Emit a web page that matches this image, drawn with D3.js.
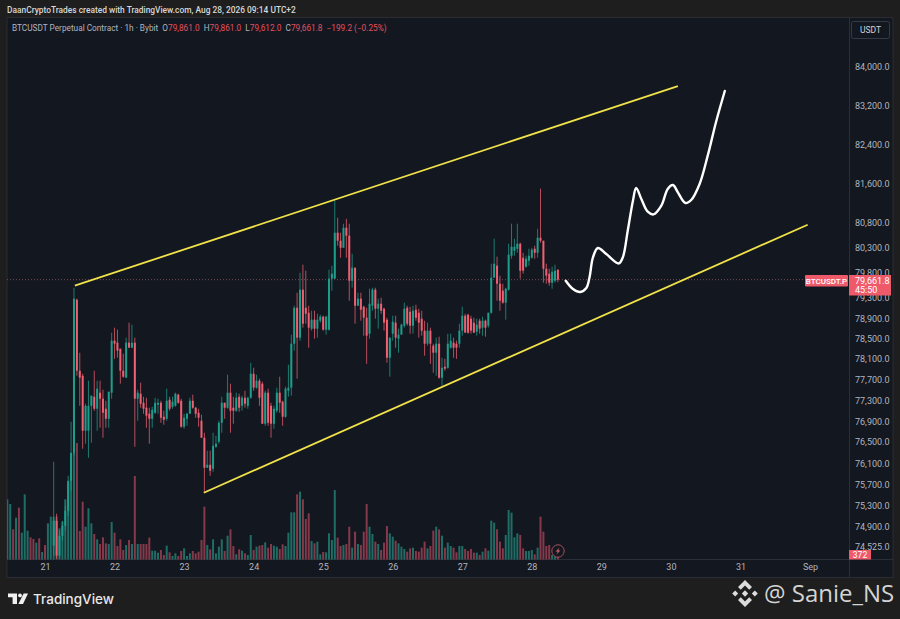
<!DOCTYPE html>
<html>

<head>
  <meta charset="utf-8">
  <title>BTCUSDT 1h</title>
  <script src="https://d3js.org/d3.v7.min.js"></script>
  <style>
    html, body { margin: 0; padding: 0; background: #1e1e1e; overflow: hidden; }
    svg { display: block; }
    .axis text { fill: #b2b5be; font-family: Roboto, sans-serif; font-size: 9px; }
    .axis .domain, .axis line { display: none; }
  </style>
</head>

<body>
  <script>
    var width = 900;
    var height = 619;

    // candles, one per hour, first one is Aug 21 03:00
    var firstCandleHour = 3;
    var opens = [74550,75014,74365,74735,74920,75200,75766,76297,79265,77873,
      77776,76717,76717,77196,77370,77139,77448,77332,77139,76946,
      77448,78459,78420,78302,77873,77738,78420,78322,78420,77332,
      77428,77254,77158,77043,76946,77062,77216,77254,76985,76946,
      77312,77177,77196,77409,77293,76793,76946,77043,77293,77158,
      77062,76908,76583,76012,76069,75993,76411,76507,76870,77254,
      77158,77448,77158,77100,77370,77196,77351,77196,77351,77815,
      77545,77680,77622,76851,77448,77196,76851,77100,77448,77274,
      76985,77486,77545,78400,79106,78518,79463,79106,79008,78694,
      78871,78694,78851,78930,78675,78675,79681,79681,80600,80439,
      80298,80700,80540,79641,79900,79146,79285,79126,78910,78596,
      79146,79463,79087,79186,79087,78871,78126,78596,78812,78498,
      78577,78753,79106,79027,78753,79067,79008,78890,78655,78400,
      78655,78361,78224,78400,77738,77951,77931,78322,78420,78400,
      78400,78655,78949,78969,78890,78812,78635,78851,78714,78851,
      78753,79008,79701,79940,79582,79443,79206,79463,80139,80238,
      80278,80379,80099,79920,80039,80099,80278,80198,80499,80439,
      79880,79780,79602,79641,79861];
    var closes = [75014,74365,74735,74920,75200,75766,76297,79285,77873,77738,
      76717,77196,77196,77390,77139,77525,77332,77062,76946,77467,
      78459,78400,78263,77873,77757,78420,78322,78420,77332,77448,
      77235,77139,77005,76946,77120,77254,77254,76966,76927,77293,
      77139,77274,77428,77254,76793,76966,77043,77293,77158,77043,
      76966,76583,76012,76069,75955,76430,76469,76870,77254,77158,
      77448,77100,77100,77351,77158,77351,77235,77351,77815,77545,
      77680,77351,76851,77448,76870,76851,77139,77448,77254,76985,
      77525,77545,78400,79106,78518,79463,78792,78988,78714,78871,
      78694,78871,78930,78675,78930,79681,79780,80600,80439,80298,
      80700,80540,79641,79900,79146,79285,79067,78910,78557,79186,
      79463,79087,79186,79047,78812,78126,78518,78832,78518,78577,
      78773,79087,78792,78753,79047,78910,78812,78655,78400,78655,
      78400,78224,78400,77738,77931,77912,78400,78459,78322,78322,
      78655,78949,78616,78616,78655,78616,78773,78694,78851,78714,
      79008,79701,79980,79582,79245,79206,79483,80159,80318,80318,
      80379,79840,79840,80079,80139,80258,80198,80499,80439,79880,
      79741,79602,79820,79840,79661.8];
    var highs = [76126,75145,74828,75014,75295,75860,76889,79503,79285,78224,
      77815,77235,77680,77390,77873,77680,77680,77506,77293,77467,
      78616,78714,78675,78302,78204,78518,78812,78773,78518,77506,
      77641,77370,77351,77158,77177,77351,77332,77293,77100,77525,
      77370,77370,77448,77428,77332,77043,77062,77351,77409,77177,
      77139,77024,76679,76335,76335,76679,76621,76908,77370,77254,
      77796,77622,77370,77448,77428,77390,77486,77370,78028,77931,
      77796,77719,77661,77486,77525,77254,77196,77545,77757,77293,
      77564,77990,78577,79146,79403,79800,79960,79840,79146,79047,
      79047,78988,78969,78949,78949,79860,79940,81246,80902,80600,
      80781,80881,80781,80178,79900,79403,79403,79146,79106,79483,
      79502,79502,79285,79304,79106,78910,78518,78949,78949,78694,
      78792,79206,79146,79126,79146,79166,79087,79047,78851,78812,
      78714,78400,78518,78537,78126,78106,78596,78596,78518,78459,
      78792,79126,78988,78988,78949,78910,78890,78890,78930,78871,
      79008,79980,80479,80119,79741,79582,79502,80379,80781,80479,
      80781,80399,80198,80139,80278,80298,80339,80680,81490,80439,
      79980,79880,79920,79960,79861];
    var lows = [74365,74310,74310,74642,74828,75107,75577,76240,77776,77196,
      76373,76469,76202,76488,77100,76717,76774,76583,76774,76774,
      77332,78106,78126,77622,77738,77738,78322,78322,76411,76908,
      77158,77043,76774,76469,76774,77043,77043,76870,76832,76908,
      77100,77139,77177,77235,76774,76755,76812,77043,77139,76966,
      76793,76583,75539,76012,75860,75936,76392,76469,76679,76946,
      77139,76679,76851,77081,77081,77100,77158,77139,77332,77486,
      77525,77196,76851,76812,76812,76583,76755,77062,77062,76812,
      76966,77370,77390,78263,77719,78459,78714,78792,78322,78655,
      78498,78518,78812,78655,78577,78655,79443,79681,80339,80099,
      80298,80099,79245,79502,78792,79146,78851,78557,78009,78498,
      79047,78890,78694,78988,78655,78028,77757,78459,78322,78224,
      78577,78714,78753,78596,78596,78851,78518,78557,78165,78361,
      78009,77834,77776,77719,77583,77873,77912,78302,78126,78106,
      78322,78557,78616,78596,78596,78616,78557,78596,78557,78537,
      78714,78988,79701,79245,79047,79186,78871,79443,80079,80139,
      80198,79681,79780,79900,79940,80079,80079,80099,80399,79602,
      79582,79542,79483,79602,79612];

    // volume, one per hour, first bar is Aug 20 11:00
    var firstVolumeHour = -13;
    var volumes = [4550,4200,2300,3175,3925,2050,4925,2200,1700,1575,1300,1625,600,1125,2750,3250,
      3250,3250,2375,2875,4550,5750,8025,9375,8775,2175,4375,2500,3875,2750,1950,1550,1200,1700,1250,1200,
      2850,2050,1050,1550,750,1125,1500,1200,6300,1200,1200,1200,1200,1675,700,700,550,750,375,1075,
      575,300,500,300,675,875,300,500,675,500,625,1500,4000,1125,800,1550,500,1000,1550,675,
      1825,2300,1050,425,800,700,500,375,1875,750,1000,1075,1125,1325,925,1200,1075,1000,825,1175,
      1050,2050,3575,3575,4925,5125,4550,3075,3500,1425,1250,1375,425,600,575,2000,1500,5250,1675,1050,
      1125,1200,2500,925,2125,1200,1125,2125,4200,2500,1950,1375,1200,750,1300,2550,2000,1750,1450,1250,
      1000,825,625,875,925,675,625,925,1375,875,1050,2200,2500,2300,1825,925,1300,1050,925,575,
      1050,1050,825,675,825,550,550,375,625,875,700,2950,2800,2300,1375,875,1875,3750,3550,1700,
      2000,1875,875,675,675,750,425,925,3250,2125,1050,1125,375,250,372];
    // candles of the first volume bars lie under the pane, so only their side is known
    var earlyVolumeSides = [1,1,-1,1,-1,1,1,1,-1,-1,1,-1,1,-1,1,1];

    var priceTicks = [84000,83200,82400,81600,80800,80300,79800,79300,78900,78500,78100,77700,77300,76900,76500,76100,75700,75300,74900,74525];
    var dayHours = [0,24,48,72,96,120,144,168,192,216,240,264];
    var dayLabels = ["21","22","23","24","25","26","27","28","29","30","31","Sep"];

    // drawn channel, [hour, price]
    var upperChannel = [[10.3,79543],[218.4,83602]];
    var lowerChannel = [[54.8,75540],[263.2,80761]];

    // hand drawn projection
    var sketchHours = [179.7,182.2,184.7,186.8,187.9,189.1,190.8,193.7,198,199.4,201.1,202.9,204,205.8,208,210,212.7,214.9,216.7,218.4,221,223,225.9,228.7,231.6,234.6];
    var sketchPrices = [79641,79477,79418,79497,79706,80105,80293,80173,79985,80105,80640,81246,81504,81280,81023,80969,81145,81484,81564,81415,81199,81260,81585,82163,82862,83499];

    var lastPrice = 79661.8;
    var lastVolume = 372;

    var upColor = "#1f9d8b";
    var downColor = "#ee6072";
    var upVolume = "#1e6e66";
    var downVolume = "#86394a";
    var paneBg = "#131720";

    var svg = d3.select("body").append("svg").attr("width", width).attr("height", height);

    var x = d3.scaleLinear().domain([0, 264]).range([45, 810]);
    var y = d3.scaleLog().domain([74525, 84000]).range([547, 67]);
    var yVol = d3.scaleLinear().domain([0, 9375]).range([560, 435]);

    // page and panes
    svg.append("rect").attr("width", width).attr("height", height).attr("fill", "#1e1e1e");
    svg.append("rect").attr("x", 7).attr("y", 17.5).attr("width", 886).attr("height", 560).attr("fill", paneBg).attr("stroke", "#2a2c32");
    svg.append("line").attr("x1", 849.5).attr("x2", 849.5).attr("y1", 18).attr("y2", 577).attr("stroke", "#2a2e39");
    svg.append("line").attr("x1", 7).attr("x2", 893).attr("y1", 559.5).attr("y2", 559.5).attr("stroke", "#2a2e39");

    svg.append("defs").append("clipPath").attr("id", "pane").append("rect")
      .attr("x", 7).attr("y", 18).attr("width", 842).attr("height", 541.5);

    var pane = svg.append("g").attr("clip-path", "url(#pane)");

    // last price dotted line
    pane.append("line")
      .attr("x1", 7).attr("x2", 849)
      .attr("y1", y(lastPrice)).attr("y2", y(lastPrice))
      .attr("stroke", "#7a4a52").attr("stroke-width", 1).attr("stroke-dasharray", "1 2");

    function isUp(i) { return closes[i] >= opens[i]; }

    pane.selectAll("rect.vol")
      .data(volumes)
      .enter()
      .append("rect")
      .attr("class", "vol")
      .attr("x", function (d, i) { return x(firstVolumeHour + i) - 1; })
      .attr("y", function (d) { return yVol(d); })
      .attr("width", 2)
      .attr("height", function (d) { return yVol(0) - yVol(d); })
      .attr("fill", function (d, i) {
        var side = i < earlyVolumeSides.length ? earlyVolumeSides[i] : (isUp(i - earlyVolumeSides.length) ? 1 : -1);
        return side > 0 ? upVolume : downVolume;
      });

    var candles = pane.selectAll("g.candle")
      .data(opens)
      .enter()
      .append("g")
      .attr("class", "candle");

    candles.append("line")
      .attr("x1", function (d, i) { return x(firstCandleHour + i); })
      .attr("x2", function (d, i) { return x(firstCandleHour + i); })
      .attr("y1", function (d, i) { return y(highs[i]); })
      .attr("y2", function (d, i) { return y(lows[i]); })
      .attr("stroke", function (d, i) { return isUp(i) ? upColor : downColor; })
      .attr("stroke-opacity", 0.75)
      .attr("stroke-width", 1);

    candles.append("rect")
      .attr("x", function (d, i) { return x(firstCandleHour + i) - 1; })
      .attr("y", function (d, i) { return y(Math.max(opens[i], closes[i])); })
      .attr("width", 2)
      .attr("height", function (d, i) { return Math.max(1, Math.abs(y(opens[i]) - y(closes[i]))); })
      .attr("fill", function (d, i) { return isUp(i) ? upColor : downColor; });

    // channel lines
    var channel = d3.line()
      .x(function (d) { return x(d[0]); })
      .y(function (d) { return y(d[1]); });

    [upperChannel, lowerChannel].forEach(function (c) {
      pane.append("path")
        .attr("d", channel(c))
        .attr("fill", "none")
        .attr("stroke", "#f1e24a")
        .attr("stroke-width", 1.8);
    });

    // projection
    var sketch = d3.line()
      .curve(d3.curveCatmullRom.alpha(0.5))
      .x(function (d, i) { return x(d); })
      .y(function (d, i) { return y(sketchPrices[i]); });

    pane.append("path")
      .attr("d", sketch(sketchHours))
      .attr("fill", "none")
      .attr("stroke", "#ffffff")
      .attr("stroke-width", 2.4)
      .attr("stroke-linecap", "round");

    // axes
    var yAxis = d3.axisRight(y)
      .tickValues(priceTicks)
      .tickSize(0)
      .tickPadding(5)
      .tickFormat(d3.format(",.1f"));

    svg.append("g").attr("class", "axis").attr("transform", "translate(850,0)").call(yAxis);

    var xAxis = d3.axisBottom(x)
      .tickValues(dayHours)
      .tickSize(0)
      .tickPadding(4)
      .tickFormat(function (d, i) { return dayLabels[i]; });

    svg.append("g").attr("class", "axis").attr("transform", "translate(0,560)").call(xAxis);

    // header
    svg.append("text")
      .attr("x", 7).attr("y", 13)
      .attr("fill", "#d8d8d8")
      .attr("font-family", "Roboto, sans-serif").attr("font-size", 8.4).attr("font-weight", 500)
      .text("DaanCryptoTrades created with TradingView.com, Aug 28, 2026 09:14 UTC+2");

    var legend = svg.append("text")
      .attr("x", 12).attr("y", 31)
      .attr("fill", "#b2b5be")
      .attr("font-family", "Roboto, sans-serif").attr("font-size", 8.25);
    var legendParts = [
      ["BTCUSDT Perpetual Contract · 1h · Bybit  ", "#b2b5be"],
      ["O", "#b2b5be"], ["79,861.0  ", "#e4505f"],
      ["H", "#b2b5be"], ["79,861.0  ", "#e4505f"],
      ["L", "#b2b5be"], ["79,612.0  ", "#e4505f"],
      ["C", "#b2b5be"], ["79,661.8  −199.2 (−0.25%)", "#e4505f"]
    ];
    legend.attr("xml:space", "preserve").style("white-space", "pre");
    legendParts.forEach(function (p) {
      legend.append("tspan").attr("fill", p[1]).text(p[0]);
    });

    // currency button
    svg.append("rect")
      .attr("x", 851.5).attr("y", 21.5).attr("width", 38).attr("height", 17).attr("rx", 2)
      .attr("fill", paneBg).attr("stroke", "#363a45");
    svg.append("text")
      .attr("x", 870.5).attr("y", 33)
      .attr("text-anchor", "middle").attr("fill", "#d1d4dc")
      .attr("font-family", "Roboto, sans-serif").attr("font-size", 8.5)
      .text("USDT");

    // last price tags
    var tagColor = "#ef5a6b";
    svg.append("rect").attr("x", 805).attr("y", 275).attr("width", 43).attr("height", 11.5).attr("rx", 1).attr("fill", tagColor);
    svg.append("text").attr("x", 826.5).attr("y", 284)
      .attr("text-anchor", "middle").attr("fill", "#fff")
      .attr("font-family", "Roboto, sans-serif").attr("font-size", 8).attr("font-weight", 500)
      .text("BTCUSDT.P");
    svg.append("rect").attr("x", 849).attr("y", 275).attr("width", 42).attr("height", 20.5).attr("fill", tagColor);
    svg.append("text").attr("x", 855).attr("y", 283.5)
      .attr("fill", "#fff").attr("font-family", "Roboto, sans-serif").attr("font-size", 9)
      .text(d3.format(",.1f")(lastPrice));
    svg.append("text").attr("x", 855).attr("y", 293)
      .attr("fill", "#fff").attr("font-family", "Roboto, sans-serif").attr("font-size", 9)
      .text("45:50");

    svg.append("rect").attr("x", 849).attr("y", 550).attr("width", 22).attr("height", 9.5).attr("fill", tagColor);
    svg.append("text").attr("x", 860).attr("y", 558.3)
      .attr("text-anchor", "middle").attr("fill", "#fff")
      .attr("font-family", "Roboto, sans-serif").attr("font-size", 8.5)
      .text(lastVolume);

    // lightning badge
    var badge = svg.append("g").attr("transform", "translate(558,551)");
    badge.append("circle").attr("r", 6.2).attr("fill", paneBg).attr("stroke", "#a8505c").attr("stroke-width", 1);
    badge.append("path").attr("d", "M1.5,-3.6L-2.4,0.6H-0.2L-1.5,3.6L2.4,-0.6H0.2Z").attr("fill", "#c9626f");

    // TradingView logo
    var logo = svg.append("g").attr("fill", "#f0f0f0");
    logo.append("path").attr("d", "M8,593.5H17V604H12.6V597.2H8Z");
    logo.append("circle").attr("cx", 20).attr("cy", 595.4).attr("r", 1.9);
    logo.append("path").attr("d", "M23.6,593.5H28L23,604H18.4Z");
    svg.append("text")
      .attr("x", 33).attr("y", 603.5)
      .attr("fill", "#e8e8e8")
      .attr("font-family", "Inter, sans-serif").attr("font-size", 13.5).attr("font-weight", 500)
      .text("TradingView");

    // watermark
    var mark = svg.append("g").attr("fill", "#dcdcdc").attr("transform", "translate(745,593.5)");
    mark.append("path").attr("d", "M0,-13.5L7,-6.5L4.2,-3.7L0,-7.9L-4.2,-3.7L-7,-6.5Z");
    mark.append("path").attr("d", "M0,13.5L7,6.5L4.2,3.7L0,7.9L-4.2,3.7L-7,6.5Z");
    mark.append("path").attr("d", "M0,-3.2L3.2,0L0,3.2L-3.2,0Z");
    mark.append("path").attr("d", "M-9.8,-3L-6.8,0L-9.8,3L-12.8,0Z");
    mark.append("path").attr("d", "M9.8,-3L12.8,0L9.8,3L6.8,0Z");
    svg.append("text")
      .attr("x", 764).attr("y", 601.5)
      .attr("fill", "#d4d4d4")
      .attr("font-family", "'Open Sans', sans-serif").attr("font-size", 24)
      .text("@ Sanie_NS");
  </script>
</body>

</html>
